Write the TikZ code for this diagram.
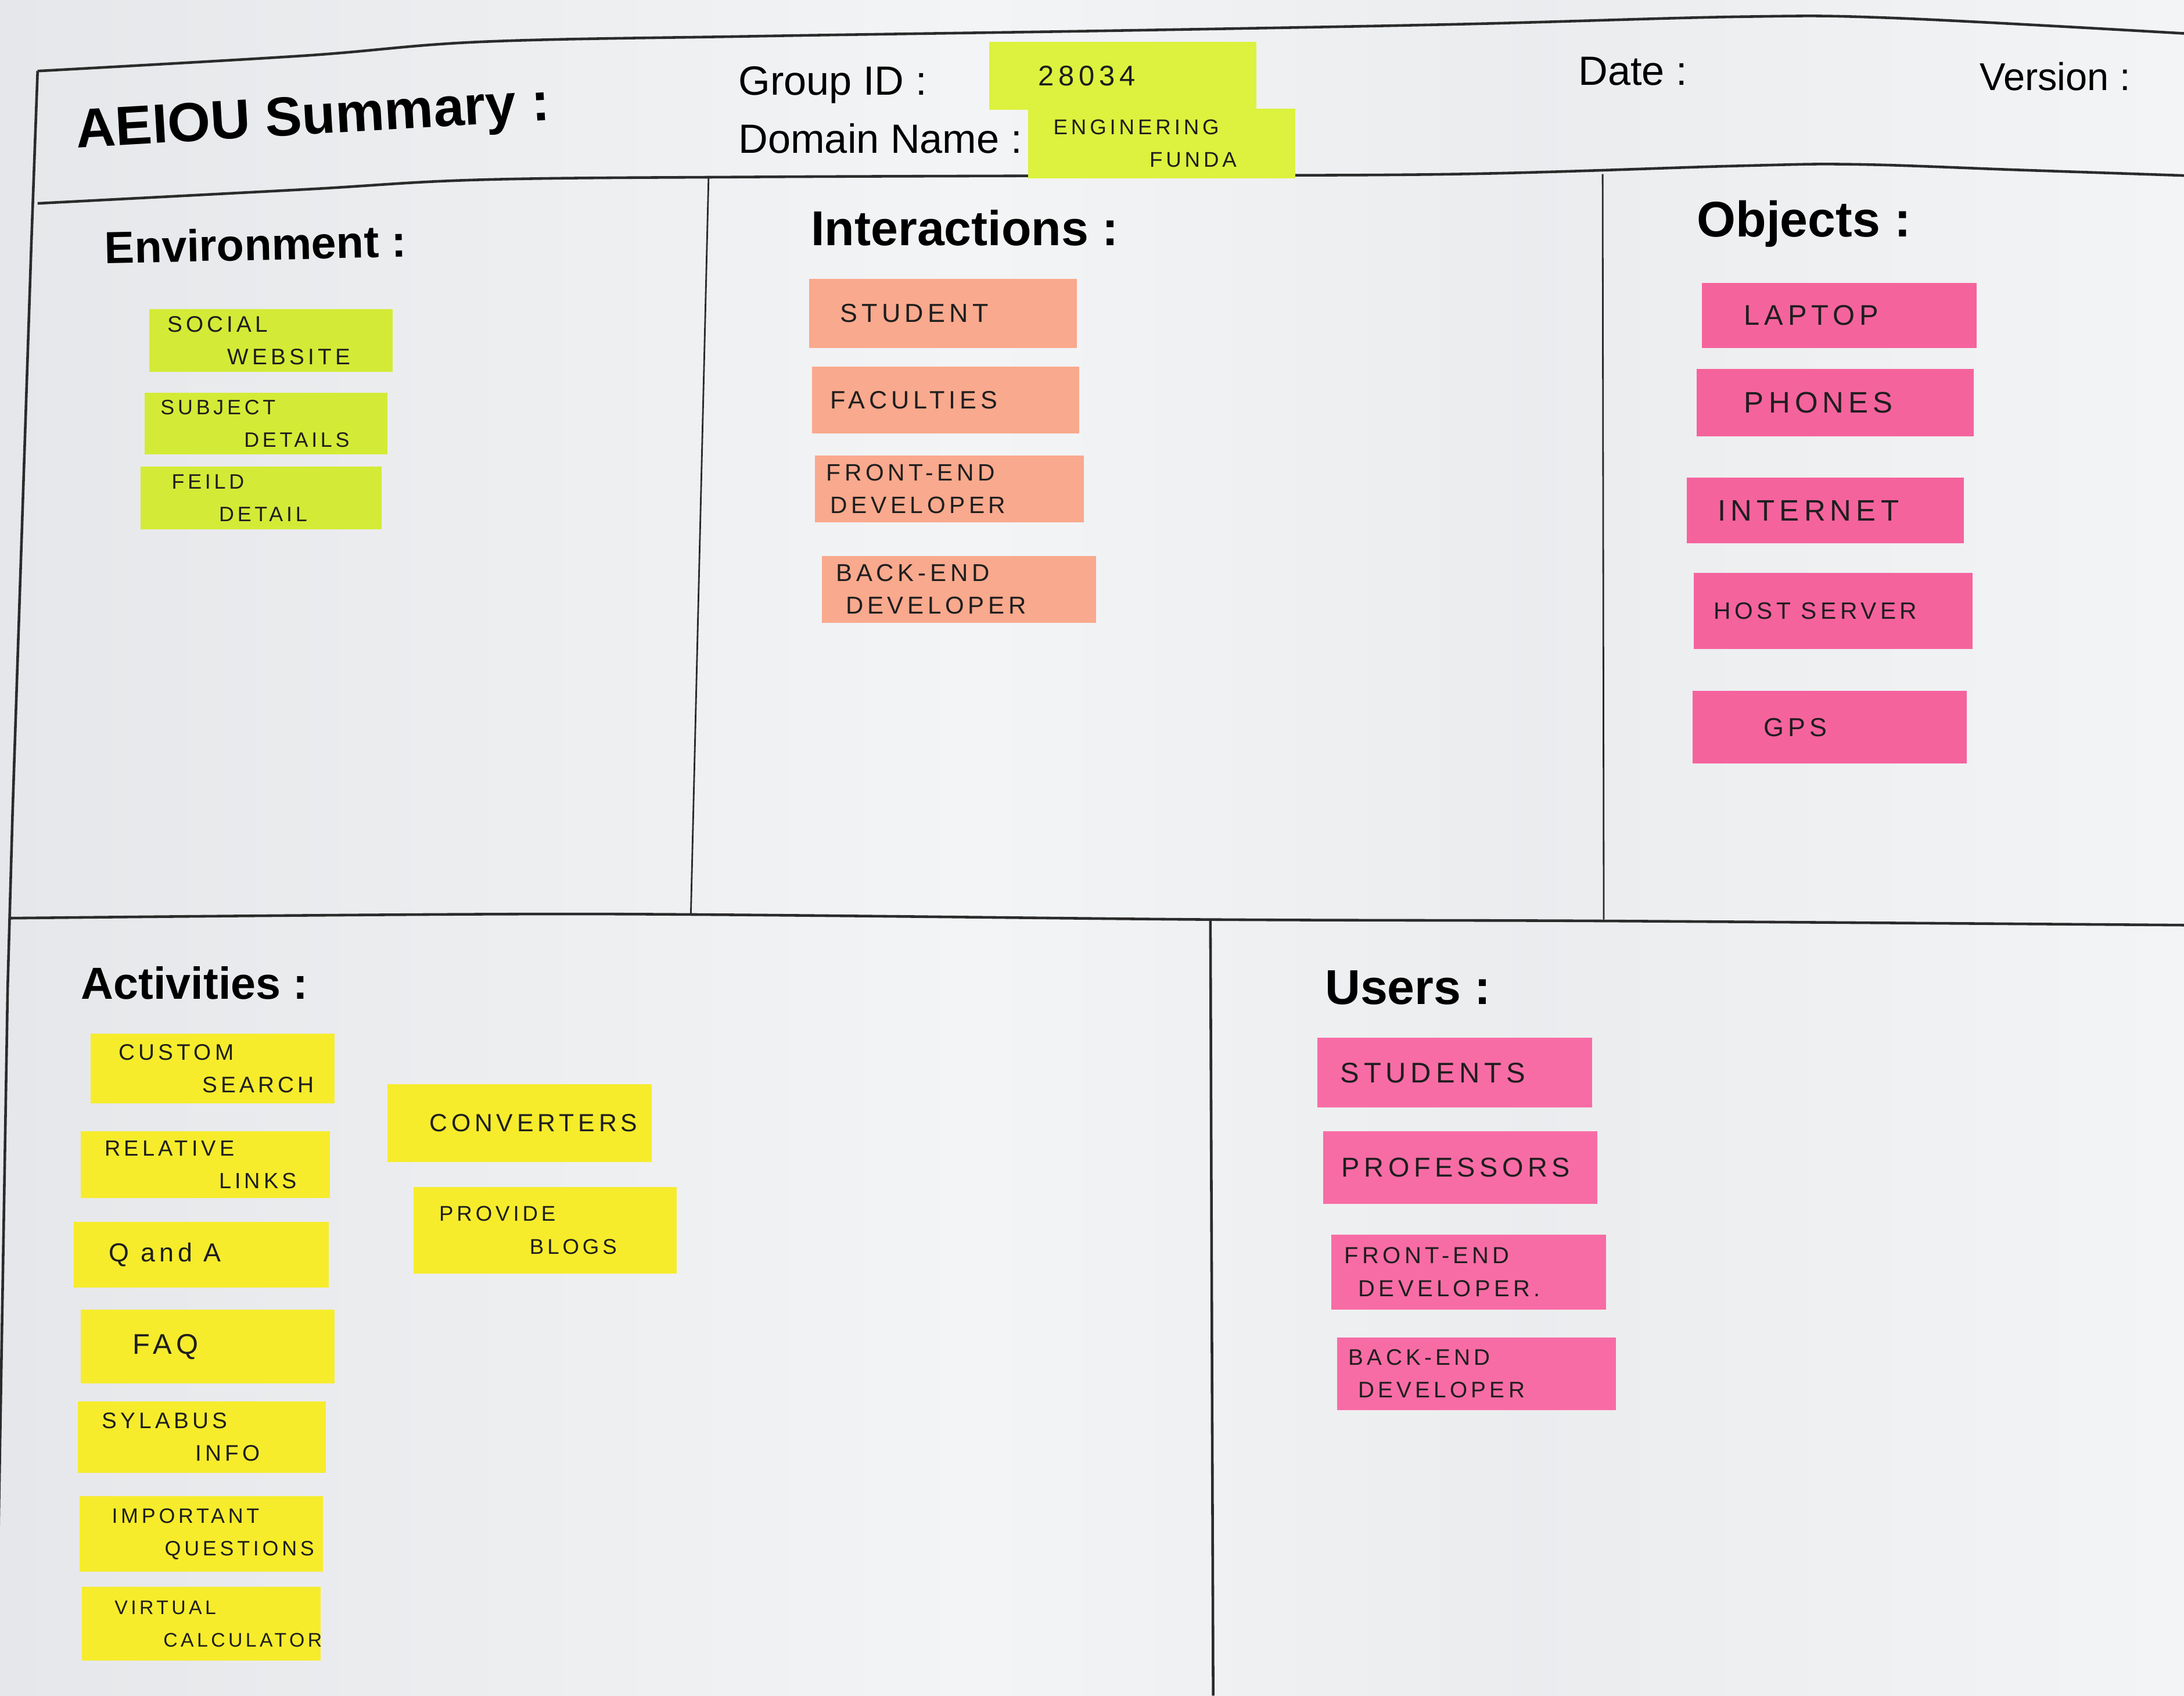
\documentclass[tikz,border=0pt]{standalone}
\usepackage{fontspec}
\setmainfont{Liberation Sans}
\newfontfamily\hand[LetterSpace=16]{Liberation Sans}
\newdimen\U \U=0.02398cm
\definecolor{paper}{HTML}{E6E7EA}
\definecolor{paperlight}{HTML}{F3F4F5}
\definecolor{lime}{HTML}{D3EB36}
\definecolor{limeh}{HTML}{DCF23E}
\definecolor{salmon}{HTML}{F9A98D}
\definecolor{pinko}{HTML}{F5639D}
\definecolor{pinku}{HTML}{F86CA5}
\definecolor{yel}{HTML}{F6EC2C}
\definecolor{ink}{HTML}{1E1E1E}
\definecolor{rule}{HTML}{2B2B2B}
\tikzset{
  note/.style={draw=none, inner sep=0pt, rectangle},
  handtext/.style={inner sep=0pt, text=ink, align=left, anchor=west},
  hd/.style={inner sep=0pt, text=black, anchor=base west},
  frame/.style={draw=rule, line width=1.3pt, line join=round},
  thinframe/.style={draw=rule, line width=0.8pt}
}
% name, x1, y1, x2, y2, colour, text offset, font size, text
\newcommand\stick[9]{%
  \node[note, fill=#6, minimum width={(#4-#2)*\U}, minimum height={(#5-#3)*\U}] (#1) at ({(#2+#4)/2},{(#3+#5)/2}) {};
  \node[handtext, font={\hand\fontsize{\fpeval{#8*1.16}}{16}\selectfont}] (#1t) at ({#2+#7},{(#3+#5)/2}) {#9};}
\begin{document}
\begin{tikzpicture}[x=0.02398cm, y=-0.02398cm]
\useasboundingbox (0,0) rectangle (1568,1217);
\shade[left color=paper, right color=paperlight] (0,0) rectangle (700,1217);
\shade[left color=paperlight, right color=paper!60!paperlight] (700,0) rectangle (1100,1217);
\shade[left color=paper!60!paperlight, right color=paperlight] (1100,0) rectangle (1568,1217);

% ---- ruled frame ----
\draw[frame] plot[smooth, tension=0.6] coordinates {(27,51) (218,40) (346,30) (542,26) (800,22) (1043,17.5) (1250,12) (1361,13) (1568,24)};
\draw[frame] plot[smooth, tension=0.6] coordinates {(27,146) (218,136) (346,129) (542,127) (800,126) (1043,125) (1250,119) (1334,118) (1450,122) (1568,126)};
\draw[frame] (27,51) -- (22.5,175) -- (9,584) -- (5.5,709) -- (-3,1217);
\draw[thinframe] (508.7,128) -- (496,656);
\draw[thinframe] (1150.6,125) -- (1151.4,660);
\draw[frame] plot[smooth, tension=0.5] coordinates {(7.5,659) (417,656) (869,660) (1151,661) (1568,664)};
\draw[frame] (869,660) -- (871,1217);

% ---- header ----
\node[hd, font=\bfseries\fontsize{27}{30}\selectfont, rotate=3.3] (title) at (55,106) {AEIOU Summary :};
\node[hd, font=\fontsize{20}{24}\selectfont] (gid) at (530,68) {Group ID :};
\node[hd, font=\fontsize{20}{24}\selectfont] (dom) at (530,110) {Domain Name :};
\node[hd, font=\fontsize{20}{24}\selectfont] (date) at (1133,61) {Date :};
\node[hd, font=\fontsize{19}{24}\selectfont] (ver) at (1421,65) {Version :};
\stick{hid}{710}{30}{902}{79}{limeh}{35}{12}{28034}
\stick{hdom}{738}{78}{930}{128}{limeh}{18}{9}{ENGINERING\\\hspace*{69\U}FUNDA}

% ---- section titles ----
\node[hd, font=\bfseries\fontsize{22}{26}\selectfont, rotate=1.2] (envh) at (75,189) {Environment :};
\node[hd, font=\bfseries\fontsize{24}{28}\selectfont] (inth) at (582,176) {Interactions :};
\node[hd, font=\bfseries\fontsize{24.5}{28}\selectfont] (objh) at (1218,170) {Objects :};
\node[hd, font=\bfseries\fontsize{22}{26}\selectfont] (acth) at (58,717) {Activities :};
\node[hd, font=\bfseries\fontsize{24}{28}\selectfont] (useh) at (951,721) {Users :};

% ---- Environment ----
\stick{e1}{107}{222}{282}{267}{lime}{13}{9.5}{SOCIAL\\\hspace*{43\U}WEBSITE}
\stick{e2}{104}{282}{278}{326}{lime}{11}{8.8}{SUBJECT\\\hspace*{60\U}DETAILS}
\stick{e3}{101}{335}{274}{380}{lime}{22}{8.8}{FEILD\\\hspace*{34\U}DETAIL}

% ---- Interactions ----
\stick{i1}{581}{200}{773}{250}{salmon}{22}{11}{STUDENT}
\stick{i2}{583}{263}{775}{311}{salmon}{13}{10.6}{FACULTIES}
\stick{i3}{585}{327}{778}{375}{salmon}{8}{10}{FRONT-END\\\hspace*{3\U}DEVELOPER}
\stick{i4}{590}{399}{787}{447}{salmon}{10}{10.3}{BACK-END\\\hspace*{7\U}DEVELOPER}

% ---- Objects ----
\stick{o1}{1222}{203}{1419}{250}{pinko}{30}{12}{LAPTOP}
\stick{o2}{1218}{265}{1417}{313}{pinko}{34}{12.5}{PHONES}
\stick{o3}{1211}{343}{1410}{390}{pinko}{22}{12.5}{INTERNET}
\stick{o4}{1216}{411}{1416}{466}{pinko}{14}{10}{HOST SERVER}
\stick{o5}{1215}{496}{1412}{548}{pinko}{51}{11}{GPS}

% ---- Activities ----
\stick{a1}{65}{742}{240}{792}{yel}{20}{9.5}{CUSTOM\\\hspace*{60\U}SEARCH}
\stick{a2}{58}{812}{237}{860}{yel}{17}{9.3}{RELATIVE\\\hspace*{82\U}LINKS}
\stick{a3}{53}{877}{236}{924}{yel}{25}{11}{Q and A}
\stick{a4}{58}{940}{240}{993}{yel}{37}{12}{FAQ}
\stick{a5}{56}{1006}{234}{1057}{yel}{17}{9.5}{SYLABUS\\\hspace*{67\U}INFO}
\stick{a6}{57}{1074}{232}{1128}{yel}{23}{8.8}{IMPORTANT\\\hspace*{38\U}QUESTIONS}
\stick{a7}{59}{1139}{230}{1192}{yel}{23}{8.3}{VIRTUAL\\\hspace*{35\U}CALCULATOR}
\stick{a8}{278}{778}{468}{834}{yel}{30}{10.5}{CONVERTERS}
\stick{a9}{297}{852}{486}{914}{yel}{18}{9}{PROVIDE\\\hspace*{65\U}BLOGS}

% ---- Users ----
\stick{u1}{946}{745}{1143}{795}{pinku}{16}{12}{STUDENTS}
\stick{u2}{950}{812}{1147}{864}{pinku}{13}{11.5}{PROFESSORS}
\stick{u3}{956}{886}{1153}{940}{pinku}{9}{9.8}{FRONT-END\\\hspace*{10\U}DEVELOPER.}
\stick{u4}{960}{960}{1160}{1012}{pinku}{8}{9.5}{BACK-END\\\hspace*{7\U}DEVELOPER}
\end{tikzpicture}
\end{document}
